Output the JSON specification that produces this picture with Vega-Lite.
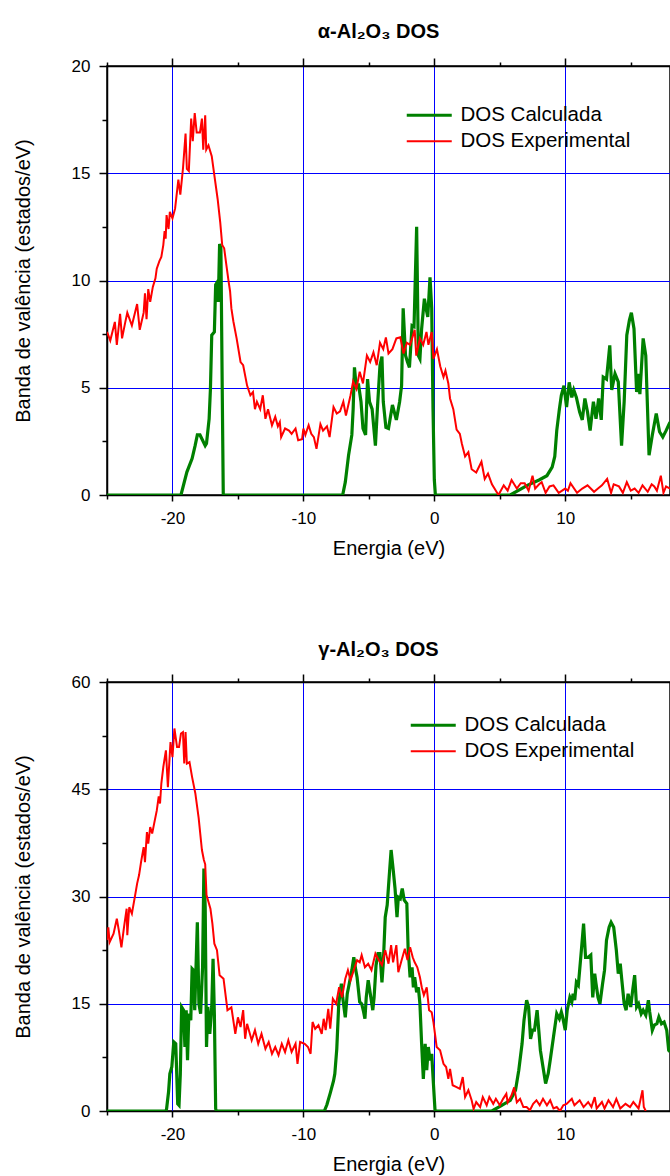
{
"$schema": "https://vega.github.io/schema/vega-lite/v6.json",
"background": "white",
"padding": {"left": 12, "top": 21, "right": 0, "bottom": 0},
"spacing": 80,
"config": {
  "view": {"stroke": "black", "strokeWidth": 1.5},
  "font": "Liberation Sans"
},
"datasets": {
"aCalc": [{"e":-25,"v":0},{"e":-19.35,"v":0},{"e":-18.9,"v":1.07},{"e":-18.5,"v":1.7},{"e":-18.27,"v":2.3},{"e":-18.1,"v":2.8},{"e":-17.9,"v":2.8},{"e":-17.7,"v":2.55},{"e":-17.5,"v":2.3},{"e":-17.4,"v":2.4},{"e":-17.2,"v":3.55},{"e":-17.1,"v":4.95},{"e":-17.0,"v":7.45},{"e":-16.8,"v":7.6},{"e":-16.7,"v":9.8},{"e":-16.6,"v":9.9},{"e":-16.5,"v":9.0},{"e":-16.4,"v":11.7},{"e":-16.3,"v":11.5},{"e":-16.2,"v":5},{"e":-16.12,"v":0},{"e":-7.0,"v":0},{"e":-6.8,"v":0.6},{"e":-6.55,"v":1.85},{"e":-6.3,"v":2.8},{"e":-6.2,"v":4.0},{"e":-6.1,"v":5.95},{"e":-5.95,"v":4.95},{"e":-5.8,"v":5.2},{"e":-5.6,"v":4.35},{"e":-5.45,"v":3.1},{"e":-5.25,"v":2.8},{"e":-5.1,"v":5.4},{"e":-4.95,"v":4.35},{"e":-4.75,"v":4.0},{"e":-4.5,"v":2.3},{"e":-4.35,"v":4.0},{"e":-4.15,"v":6.05},{"e":-4.0,"v":6.45},{"e":-3.9,"v":4.35},{"e":-3.7,"v":3.15},{"e":-3.5,"v":3.1},{"e":-3.2,"v":4.2},{"e":-2.9,"v":3.5},{"e":-2.65,"v":4.35},{"e":-2.5,"v":5.1},{"e":-2.38,"v":8.7},{"e":-2.2,"v":6.5},{"e":-2.05,"v":6.2},{"e":-1.9,"v":5.95},{"e":-1.7,"v":7.9},{"e":-1.55,"v":7.85},{"e":-1.35,"v":12.5},{"e":-1.22,"v":6.5},{"e":-1.1,"v":6.35},{"e":-0.97,"v":7.75},{"e":-0.76,"v":9.15},{"e":-0.63,"v":8.7},{"e":-0.5,"v":8.3},{"e":-0.33,"v":10.15},{"e":-0.2,"v":8.7},{"e":-0.1,"v":4},{"e":0.0,"v":0.7},{"e":0.08,"v":0},{"e":5.8,"v":0},{"e":7.1,"v":0.45},{"e":8.0,"v":0.7},{"e":8.6,"v":0.9},{"e":9.0,"v":1.3},{"e":9.2,"v":1.8},{"e":9.35,"v":3.0},{"e":9.55,"v":4.0},{"e":9.7,"v":4.65},{"e":9.9,"v":5.1},{"e":10.1,"v":4.1},{"e":10.3,"v":5.25},{"e":10.5,"v":4.55},{"e":10.65,"v":4.9},{"e":10.85,"v":4.55},{"e":11.1,"v":3.87},{"e":11.3,"v":3.5},{"e":11.5,"v":4.5},{"e":11.7,"v":3.87},{"e":11.9,"v":3.0},{"e":12.15,"v":4.35},{"e":12.35,"v":3.55},{"e":12.55,"v":4.5},{"e":12.75,"v":3.5},{"e":12.9,"v":5.5},{"e":13.15,"v":5.4},{"e":13.4,"v":6.98},{"e":13.55,"v":4.9},{"e":13.8,"v":5.65},{"e":14.05,"v":5.27},{"e":14.3,"v":2.3},{"e":14.5,"v":4.35},{"e":14.7,"v":7.45},{"e":14.9,"v":8.15},{"e":15.05,"v":8.5},{"e":15.25,"v":7.75},{"e":15.45,"v":4.8},{"e":15.55,"v":5.65},{"e":15.7,"v":4.7},{"e":15.95,"v":7.3},{"e":16.15,"v":6.5},{"e":16.4,"v":1.85},{"e":16.65,"v":2.8},{"e":16.95,"v":3.8},{"e":17.2,"v":2.95},{"e":17.45,"v":2.7},{"e":17.7,"v":3.0},{"e":18.0,"v":3.4}],
"aExp": [{"e":-25,"v":7.6},{"e":-24.75,"v":7.2},{"e":-24.4,"v":8.07},{"e":-24.25,"v":7.0},{"e":-24.0,"v":8.45},{"e":-23.85,"v":7.3},{"e":-23.6,"v":8.07},{"e":-23.45,"v":8.5},{"e":-23.1,"v":7.9},{"e":-22.7,"v":8.9},{"e":-22.5,"v":7.7},{"e":-22.2,"v":8.5},{"e":-22.1,"v":9.4},{"e":-21.98,"v":8.2},{"e":-21.85,"v":9.6},{"e":-21.7,"v":9.0},{"e":-21.5,"v":9.7},{"e":-21.3,"v":10.1},{"e":-21.2,"v":10.55},{"e":-21.0,"v":10.9},{"e":-20.85,"v":11.1},{"e":-20.7,"v":11.65},{"e":-20.6,"v":12.3},{"e":-20.52,"v":11.95},{"e":-20.45,"v":13.05},{"e":-20.3,"v":12.4},{"e":-20.2,"v":13.2},{"e":-20.0,"v":12.9},{"e":-19.8,"v":13.35},{"e":-19.55,"v":14.7},{"e":-19.4,"v":14.0},{"e":-19.2,"v":15.2},{"e":-19.0,"v":16.85},{"e":-18.9,"v":15.2},{"e":-18.75,"v":15.1},{"e":-18.57,"v":17.55},{"e":-18.45,"v":16.5},{"e":-18.3,"v":17.8},{"e":-18.15,"v":16.9},{"e":-17.9,"v":16.9},{"e":-17.75,"v":17.55},{"e":-17.65,"v":16.1},{"e":-17.5,"v":17.7},{"e":-17.42,"v":16.1},{"e":-17.25,"v":16.3},{"e":-17.0,"v":15.8},{"e":-16.8,"v":14.9},{"e":-16.55,"v":13.8},{"e":-16.35,"v":12.7},{"e":-16.2,"v":11.65},{"e":-16.05,"v":11.5},{"e":-15.9,"v":10.8},{"e":-15.7,"v":9.9},{"e":-15.6,"v":9.5},{"e":-15.5,"v":8.7},{"e":-15.35,"v":8.1},{"e":-15.1,"v":7.3},{"e":-14.8,"v":6.2},{"e":-14.6,"v":6.05},{"e":-14.3,"v":5.1},{"e":-14.05,"v":4.65},{"e":-13.85,"v":4.8},{"e":-13.7,"v":4.0},{"e":-13.55,"v":4.35},{"e":-13.3,"v":4.0},{"e":-13.1,"v":4.65},{"e":-12.9,"v":3.55},{"e":-12.7,"v":4.0},{"e":-12.4,"v":3.25},{"e":-12.15,"v":3.65},{"e":-11.95,"v":3.2},{"e":-11.8,"v":3.4},{"e":-11.7,"v":2.7},{"e":-11.4,"v":3.1},{"e":-11.1,"v":3.0},{"e":-10.9,"v":2.85},{"e":-10.6,"v":3.1},{"e":-10.4,"v":2.55},{"e":-10.1,"v":2.6},{"e":-10.0,"v":3.1},{"e":-9.85,"v":2.8},{"e":-9.6,"v":3.25},{"e":-9.4,"v":2.85},{"e":-9.2,"v":2.7},{"e":-9.0,"v":2.15},{"e":-8.7,"v":3.3},{"e":-8.5,"v":3.0},{"e":-8.2,"v":3.2},{"e":-8.0,"v":2.7},{"e":-7.7,"v":4.1},{"e":-7.45,"v":3.8},{"e":-7.2,"v":3.9},{"e":-6.95,"v":4.35},{"e":-6.75,"v":3.7},{"e":-6.4,"v":4.65},{"e":-6.2,"v":5.3},{"e":-5.95,"v":4.95},{"e":-5.7,"v":5.75},{"e":-5.45,"v":5.2},{"e":-5.15,"v":6.5},{"e":-4.9,"v":6.2},{"e":-4.65,"v":6.65},{"e":-4.4,"v":6.05},{"e":-4.15,"v":7.1},{"e":-3.9,"v":6.8},{"e":-3.7,"v":7.35},{"e":-3.5,"v":6.6},{"e":-3.2,"v":6.8},{"e":-2.9,"v":7.3},{"e":-2.6,"v":7.35},{"e":-2.35,"v":6.6},{"e":-2.1,"v":7.1},{"e":-1.85,"v":7.0},{"e":-1.5,"v":7.7},{"e":-1.38,"v":6.5},{"e":-1.1,"v":7.3},{"e":-0.85,"v":7.0},{"e":-0.6,"v":7.6},{"e":-0.45,"v":7.0},{"e":-0.2,"v":7.6},{"e":-0.07,"v":6.35},{"e":0.2,"v":6.8},{"e":0.45,"v":6.0},{"e":0.7,"v":5.5},{"e":0.85,"v":5.8},{"e":1.07,"v":5.2},{"e":1.2,"v":4.5},{"e":1.45,"v":4.0},{"e":1.7,"v":3.05},{"e":1.95,"v":2.85},{"e":2.1,"v":2.4},{"e":2.35,"v":1.8},{"e":2.6,"v":2.0},{"e":2.85,"v":1.2},{"e":3.2,"v":1.05},{"e":3.6,"v":1.55},{"e":3.85,"v":0.75},{"e":4.1,"v":1.0},{"e":4.4,"v":0.5},{"e":4.9,"v":0.0},{"e":5.3,"v":0.45},{"e":5.6,"v":0.2},{"e":5.9,"v":0.7},{"e":6.3,"v":0.3},{"e":6.6,"v":0.55},{"e":6.9,"v":0.55},{"e":7.2,"v":0.2},{"e":7.5,"v":0.9},{"e":7.7,"v":0.3},{"e":8.0,"v":0.5},{"e":8.2,"v":0.6},{"e":8.5,"v":0.1},{"e":8.8,"v":0.4},{"e":9.1,"v":0.45},{"e":9.5,"v":0.1},{"e":10.0,"v":0.3},{"e":10.2,"v":0.2},{"e":10.4,"v":0.55},{"e":10.9,"v":0.1},{"e":11.3,"v":0.3},{"e":11.7,"v":0.45},{"e":12.2,"v":0.15},{"e":12.5,"v":0.3},{"e":12.8,"v":0.45},{"e":13.2,"v":0.75},{"e":13.5,"v":0.1},{"e":13.7,"v":0.5},{"e":14.1,"v":0.4},{"e":14.4,"v":0.1},{"e":14.7,"v":0.6},{"e":15.0,"v":0.2},{"e":15.3,"v":0.3},{"e":15.6,"v":0.1},{"e":15.9,"v":0.45},{"e":16.3,"v":0.15},{"e":16.6,"v":0.5},{"e":16.8,"v":0.4},{"e":17.0,"v":0.2},{"e":17.3,"v":0.9},{"e":17.5,"v":0.1},{"e":17.7,"v":0.4},{"e":18.0,"v":0.3}],
"gCalc": [{"e":-25,"v":0},{"e":-20.5,"v":0},{"e":-20.45,"v":0.3},{"e":-20.3,"v":2.65},{"e":-20.2,"v":5.2},{"e":-20.05,"v":6.15},{"e":-19.9,"v":9.65},{"e":-19.75,"v":9.4},{"e":-19.6,"v":1.0},{"e":-19.5,"v":0.8},{"e":-19.4,"v":5.2},{"e":-19.3,"v":14.55},{"e":-19.15,"v":14.1},{"e":-19.05,"v":8.95},{"e":-18.95,"v":14.1},{"e":-18.85,"v":7.1},{"e":-18.75,"v":13.6},{"e":-18.6,"v":12.7},{"e":-18.5,"v":19.9},{"e":-18.4,"v":19.7},{"e":-18.3,"v":14.1},{"e":-18.1,"v":26.4},{"e":-17.98,"v":15.0},{"e":-17.85,"v":13.6},{"e":-17.7,"v":20.1},{"e":-17.6,"v":33.9},{"e":-17.5,"v":28.5},{"e":-17.4,"v":8.95},{"e":-17.3,"v":14.55},{"e":-17.15,"v":10.8},{"e":-17.0,"v":14.55},{"e":-16.9,"v":21.3},{"e":-16.8,"v":13.6},{"e":-16.7,"v":0.3},{"e":-16.65,"v":0},{"e":-8.4,"v":0},{"e":-8.2,"v":0.9},{"e":-7.95,"v":2.5},{"e":-7.7,"v":4.2},{"e":-7.6,"v":5.2},{"e":-7.45,"v":8.7},{"e":-7.3,"v":15.0},{"e":-7.1,"v":17.8},{"e":-7.0,"v":15.9},{"e":-6.8,"v":13.1},{"e":-6.65,"v":16.4},{"e":-6.5,"v":17.8},{"e":-6.3,"v":19.7},{"e":-6.15,"v":21.5},{"e":-6.0,"v":19.7},{"e":-5.9,"v":18.7},{"e":-5.7,"v":15.25},{"e":-5.55,"v":15.0},{"e":-5.4,"v":13.85},{"e":-5.3,"v":12.9},{"e":-5.2,"v":15.9},{"e":-5.05,"v":18.3},{"e":-4.85,"v":15.9},{"e":-4.7,"v":14.1},{"e":-4.6,"v":15.9},{"e":-4.45,"v":20.4},{"e":-4.3,"v":22.0},{"e":-4.15,"v":22.0},{"e":-4.0,"v":18.0},{"e":-3.9,"v":20.6},{"e":-3.75,"v":27.1},{"e":-3.6,"v":28.8},{"e":-3.45,"v":32.7},{"e":-3.3,"v":36.5},{"e":-3.15,"v":33.9},{"e":-3.0,"v":31.1},{"e":-2.85,"v":27.1},{"e":-2.75,"v":29.9},{"e":-2.6,"v":29.7},{"e":-2.45,"v":31.1},{"e":-2.3,"v":29.5},{"e":-2.1,"v":29.0},{"e":-2.0,"v":22.7},{"e":-1.85,"v":18.7},{"e":-1.7,"v":20.1},{"e":-1.6,"v":17.3},{"e":-1.5,"v":18.7},{"e":-1.35,"v":16.6},{"e":-1.22,"v":17.3},{"e":-1.1,"v":15.0},{"e":-0.97,"v":9.4},{"e":-0.84,"v":4.5},{"e":-0.7,"v":9.4},{"e":-0.58,"v":5.7},{"e":-0.46,"v":8.95},{"e":-0.33,"v":7.1},{"e":-0.2,"v":8.0},{"e":-0.07,"v":3.85},{"e":0.05,"v":0.2},{"e":0.1,"v":0},{"e":4.4,"v":0},{"e":5.15,"v":0.8},{"e":5.8,"v":1.5},{"e":6.2,"v":2.9},{"e":6.45,"v":5.7},{"e":6.7,"v":9.4},{"e":6.85,"v":12.7},{"e":7.05,"v":15.5},{"e":7.2,"v":14.55},{"e":7.35,"v":10.1},{"e":7.5,"v":11.3},{"e":7.65,"v":11.3},{"e":7.85,"v":14.1},{"e":8.0,"v":10.8},{"e":8.1,"v":8.5},{"e":8.3,"v":6.15},{"e":8.5,"v":3.85},{"e":8.7,"v":5.25},{"e":8.85,"v":7.1},{"e":9.1,"v":10.35},{"e":9.35,"v":13.6},{"e":9.55,"v":12.9},{"e":9.7,"v":13.85},{"e":9.8,"v":13.15},{"e":10.0,"v":11.3},{"e":10.15,"v":14.1},{"e":10.35,"v":15.9},{"e":10.5,"v":15.25},{"e":10.6,"v":16.4},{"e":10.72,"v":15.5},{"e":10.85,"v":18.0},{"e":11.0,"v":17.6},{"e":11.1,"v":19.7},{"e":11.25,"v":22.9},{"e":11.4,"v":26.2},{"e":11.55,"v":21.5},{"e":11.75,"v":21.5},{"e":11.95,"v":21.8},{"e":12.1,"v":15.9},{"e":12.25,"v":19.2},{"e":12.35,"v":17.8},{"e":12.5,"v":15.9},{"e":12.65,"v":15.0},{"e":12.85,"v":17.8},{"e":13.0,"v":19.7},{"e":13.15,"v":23.9},{"e":13.35,"v":25.7},{"e":13.5,"v":26.4},{"e":13.7,"v":25.7},{"e":13.9,"v":22.5},{"e":14.05,"v":19.2},{"e":14.2,"v":20.6},{"e":14.3,"v":18.7},{"e":14.5,"v":15.0},{"e":14.65,"v":14.1},{"e":14.8,"v":16.4},{"e":15.0,"v":14.55},{"e":15.15,"v":16.9},{"e":15.3,"v":19.0},{"e":15.45,"v":14.55},{"e":15.6,"v":15.0},{"e":15.8,"v":13.6},{"e":15.95,"v":14.1},{"e":16.15,"v":13.4},{"e":16.35,"v":15.5},{"e":16.45,"v":13.85},{"e":16.65,"v":11.3},{"e":16.8,"v":12.0},{"e":17.0,"v":12.2},{"e":17.15,"v":13.15},{"e":17.35,"v":12.2},{"e":17.55,"v":12.45},{"e":17.75,"v":11.3},{"e":17.9,"v":8.5},{"e":18.0,"v":8.3}],
"gExp": [{"e":-25,"v":23.9},{"e":-24.9,"v":25.7},{"e":-24.8,"v":23.6},{"e":-24.5,"v":24.8},{"e":-24.25,"v":26.9},{"e":-24.1,"v":25.3},{"e":-23.9,"v":22.9},{"e":-23.7,"v":25.7},{"e":-23.5,"v":28.3},{"e":-23.45,"v":24.6},{"e":-23.3,"v":28.5},{"e":-23.1,"v":27.6},{"e":-22.85,"v":30.2},{"e":-22.7,"v":31.8},{"e":-22.55,"v":33.0},{"e":-22.4,"v":34.8},{"e":-22.2,"v":36.9},{"e":-22.1,"v":34.8},{"e":-21.95,"v":39.0},{"e":-21.85,"v":37.4},{"e":-21.7,"v":39.7},{"e":-21.55,"v":38.8},{"e":-21.4,"v":40.2},{"e":-21.2,"v":42.0},{"e":-21.05,"v":44.0},{"e":-20.95,"v":43.0},{"e":-20.85,"v":45.8},{"e":-20.7,"v":48.1},{"e":-20.5,"v":50.45},{"e":-20.35,"v":45.3},{"e":-20.15,"v":51.6},{"e":-20.0,"v":49.5},{"e":-19.85,"v":53.5},{"e":-19.65,"v":50.9},{"e":-19.5,"v":50.9},{"e":-19.35,"v":52.8},{"e":-19.2,"v":53.0},{"e":-19.1,"v":48.6},{"e":-19.0,"v":53.0},{"e":-18.9,"v":48.6},{"e":-18.7,"v":48.8},{"e":-18.5,"v":46.7},{"e":-18.25,"v":44.4},{"e":-18.0,"v":41.0},{"e":-17.75,"v":36.5},{"e":-17.6,"v":35.1},{"e":-17.5,"v":34.5},{"e":-17.4,"v":30.2},{"e":-17.1,"v":28.3},{"e":-16.95,"v":26.2},{"e":-16.8,"v":23.4},{"e":-16.6,"v":22.5},{"e":-16.4,"v":19.0},{"e":-16.1,"v":18.5},{"e":-15.8,"v":14.1},{"e":-15.5,"v":14.5},{"e":-15.2,"v":10.8},{"e":-15.0,"v":13.1},{"e":-14.8,"v":11.75},{"e":-14.6,"v":14.1},{"e":-14.45,"v":10.1},{"e":-14.3,"v":12.2},{"e":-13.95,"v":9.9},{"e":-13.7,"v":11.3},{"e":-13.45,"v":9.4},{"e":-13.2,"v":10.8},{"e":-12.9,"v":8.7},{"e":-12.65,"v":9.65},{"e":-12.4,"v":8.0},{"e":-12.15,"v":8.95},{"e":-11.9,"v":7.8},{"e":-11.65,"v":9.4},{"e":-11.4,"v":8.25},{"e":-11.15,"v":9.9},{"e":-10.9,"v":8.25},{"e":-10.6,"v":9.4},{"e":-10.45,"v":6.6},{"e":-10.25,"v":9.65},{"e":-9.9,"v":9.4},{"e":-9.65,"v":8.95},{"e":-9.45,"v":8.0},{"e":-9.3,"v":12.45},{"e":-9.1,"v":11.5},{"e":-8.85,"v":12.0},{"e":-8.6,"v":10.8},{"e":-8.45,"v":12.9},{"e":-8.3,"v":11.3},{"e":-8.1,"v":14.3},{"e":-7.95,"v":11.5},{"e":-7.75,"v":15.7},{"e":-7.5,"v":15.0},{"e":-7.27,"v":17.3},{"e":-7.05,"v":15.9},{"e":-6.8,"v":18.5},{"e":-6.6,"v":19.7},{"e":-6.4,"v":18.3},{"e":-6.15,"v":19.7},{"e":-5.9,"v":21.1},{"e":-5.7,"v":20.8},{"e":-5.55,"v":21.8},{"e":-5.3,"v":20.1},{"e":-5.05,"v":20.6},{"e":-4.8,"v":19.7},{"e":-4.5,"v":22.0},{"e":-4.3,"v":21.3},{"e":-4.0,"v":20.4},{"e":-3.75,"v":22.5},{"e":-3.5,"v":20.6},{"e":-3.3,"v":23.2},{"e":-3.15,"v":20.8},{"e":-2.9,"v":23.2},{"e":-2.75,"v":19.4},{"e":-2.5,"v":21.1},{"e":-2.25,"v":22.7},{"e":-2.05,"v":21.1},{"e":-1.85,"v":22.9},{"e":-1.65,"v":21.5},{"e":-1.5,"v":20.8},{"e":-1.3,"v":20.1},{"e":-1.1,"v":18.7},{"e":-0.96,"v":17.3},{"e":-0.8,"v":16.2},{"e":-0.58,"v":17.3},{"e":-0.4,"v":14.1},{"e":-0.2,"v":13.8},{"e":-0.07,"v":12.45},{"e":0.05,"v":10.8},{"e":0.18,"v":8.95},{"e":0.44,"v":8.5},{"e":0.7,"v":6.6},{"e":0.9,"v":6.15},{"e":1.07,"v":4.5},{"e":1.2,"v":5.9},{"e":1.4,"v":3.6},{"e":1.7,"v":3.35},{"e":1.95,"v":3.1},{"e":2.17,"v":4.75},{"e":2.35,"v":1.95},{"e":2.6,"v":2.9},{"e":2.85,"v":1.5},{"e":3.0,"v":0.3},{"e":3.2,"v":1.25},{"e":3.5,"v":0.55},{"e":3.7,"v":1.95},{"e":4.0,"v":0.8},{"e":4.2,"v":1.95},{"e":4.5,"v":1.0},{"e":4.7,"v":1.7},{"e":5.0,"v":0.8},{"e":5.25,"v":1.7},{"e":5.5,"v":2.4},{"e":5.6,"v":1.2},{"e":5.9,"v":2.2},{"e":6.1,"v":3.3},{"e":6.3,"v":1.2},{"e":6.55,"v":1.7},{"e":6.8,"v":0.55},{"e":7.05,"v":0.55},{"e":7.3,"v":0.1},{"e":7.55,"v":1.0},{"e":7.8,"v":1.5},{"e":8.05,"v":0.8},{"e":8.3,"v":1.7},{"e":8.6,"v":0.8},{"e":8.85,"v":1.5},{"e":9.1,"v":0.35},{"e":9.35,"v":0.55},{"e":9.6,"v":0},{"e":9.85,"v":0.8},{"e":10.1,"v":1.0},{"e":10.5,"v":1.7},{"e":10.7,"v":0.8},{"e":11.1,"v":1.5},{"e":11.4,"v":0.55},{"e":11.75,"v":1.25},{"e":12.0,"v":0.55},{"e":12.25,"v":1.95},{"e":12.4,"v":0.35},{"e":12.8,"v":1.25},{"e":13.0,"v":0.35},{"e":13.3,"v":1.5},{"e":13.65,"v":0.55},{"e":13.9,"v":1.7},{"e":14.2,"v":0.35},{"e":14.6,"v":1.0},{"e":14.95,"v":0.55},{"e":15.2,"v":1.25},{"e":15.6,"v":0.35},{"e":15.9,"v":2.9},{"e":16.0,"v":0.55},{"e":16.15,"v":0}]
},
"resolve": {"scale": {"x": "independent", "y": "independent", "color": "independent"}, "legend": {"color": "independent"}},
"vconcat": [
{
  "title": {"text": "α-Al₂O₃ DOS", "font": "Liberation Sans", "fontSize": 20, "fontWeight": "bold", "color": "black", "anchor": "middle", "dx": -10, "offset": 15},
  "width": 563, "height": 429,
  "resolve": {"axis": {"x": "independent", "y": "independent"}},
  "layer": [
    {
      "data": {"name": "aCalc"},
      "mark": {"type": "line", "strokeWidth": 3.2, "clip": true},
      "encoding": {
        "x": {"field": "e", "type": "quantitative", "scale": {"domain": [-25, 18], "nice": false, "zero": false},
          "axis": {"orient": "bottom", "values": [-25,-20,-15,-10,-5,0,5,10,15],
            "labelExpr": "datum.value % 10 === 0 && datum.value > -25 ? '' + datum.value : ''",
            "tickSize": {"condition": {"test": "datum.value % 10 === 0", "value": 6}, "value": 4},
            "tickColor": "black", "tickWidth": 1.5, "domainColor": "black", "domainWidth": 1.5,
            "grid": true, "gridColor": "#0000ff", "gridWidth": 1,
            "gridOpacity": {"condition": {"test": "datum.value % 10 === 0", "value": 1}, "value": 0},
            "labelFont": "Liberation Sans", "labelFontSize": 17, "labelColor": "black", "labelPadding": 9,
            "title": "Energia (eV)", "titleFont": "Liberation Sans", "titleFontSize": 20, "titleFontWeight": "normal", "titleColor": "black", "titlePadding": 12}},
        "y": {"field": "v", "type": "quantitative", "scale": {"domain": [0, 20], "nice": false},
          "axis": {"orient": "left", "values": [0,2.5,5,7.5,10,12.5,15,17.5,20],
            "labelExpr": "datum.value % 5 === 0 ? '' + datum.value : ''",
            "tickSize": {"condition": {"test": "datum.value % 5 === 0", "value": 8}, "value": 5},
            "tickColor": "black", "tickWidth": 1.5, "domainColor": "black", "domainWidth": 1.5,
            "grid": true, "gridColor": "#0000ff", "gridWidth": 1,
            "gridOpacity": {"condition": {"test": "datum.value % 5 === 0", "value": 1}, "value": 0},
            "labelFont": "Liberation Sans", "labelFontSize": 17, "labelColor": "black", "labelPadding": 9,
            "title": "Banda de valência (estados/eV)", "titleFont": "Liberation Sans", "titleFontSize": 20, "titleFontWeight": "normal", "titleColor": "black", "titlePadding": 38}},
        "color": {"datum": "DOS Calculada", "type": "nominal",
          "scale": {"domain": ["DOS Calculada", "DOS Experimental"], "range": ["#008000", "#ff0000"]},
          "legend": {"orient": "none", "legendX": 312, "legendY": 39, "title": null, "padding": 0,
            "symbolType": "M-2.5,0H2.5", "symbolSize": 324, "labelLimit": 0,
            "labelFont": "Liberation Sans", "labelFontSize": 20.5, "labelColor": "black", "labelOffset": 21, "rowPadding": 5,
            "encode": {"symbols": {"update": {"strokeWidth": {"signal": "datum.value === 'DOS Calculada' ? 3 : 2"}}}}}}
      }
    },
    {
      "data": {"name": "aExp"},
      "mark": {"type": "line", "strokeWidth": 2, "clip": true},
      "encoding": {
        "x": {"field": "e", "type": "quantitative",
          "axis": {"orient": "top", "values": [-25,-20,-15,-10,-5,0,5,10,15], "labels": false, "title": null, "grid": false,
            "tickSize": {"condition": {"test": "datum.value % 10 === 0", "value": 8}, "value": 4},
            "tickColor": "black", "tickWidth": 1.5, "domainColor": "black", "domainWidth": 1.5}},
        "y": {"field": "v", "type": "quantitative", "axis": null},
        "color": {"datum": "DOS Experimental", "type": "nominal"}
      }
    }
  ]
},
{
  "title": {"text": "γ-Al₂O₃ DOS", "font": "Liberation Sans", "fontSize": 20, "fontWeight": "bold", "color": "black", "anchor": "middle", "dx": -10, "offset": 13},
  "width": 563, "height": 429,
  "resolve": {"axis": {"x": "independent", "y": "independent"}},
  "layer": [
    {
      "data": {"name": "gCalc"},
      "mark": {"type": "line", "strokeWidth": 3.2, "clip": true},
      "encoding": {
        "x": {"field": "e", "type": "quantitative", "scale": {"domain": [-25, 18], "nice": false, "zero": false},
          "axis": {"orient": "bottom", "values": [-25,-20,-15,-10,-5,0,5,10,15],
            "labelExpr": "datum.value % 10 === 0 && datum.value > -25 ? '' + datum.value : ''",
            "tickSize": {"condition": {"test": "datum.value % 10 === 0", "value": 6}, "value": 4},
            "tickColor": "black", "tickWidth": 1.5, "domainColor": "black", "domainWidth": 1.5,
            "grid": true, "gridColor": "#0000ff", "gridWidth": 1,
            "gridOpacity": {"condition": {"test": "datum.value % 10 === 0", "value": 1}, "value": 0},
            "labelFont": "Liberation Sans", "labelFontSize": 17, "labelColor": "black", "labelPadding": 9,
            "title": "Energia (eV)", "titleFont": "Liberation Sans", "titleFontSize": 20, "titleFontWeight": "normal", "titleColor": "black", "titlePadding": 12}},
        "y": {"field": "v", "type": "quantitative", "scale": {"domain": [0, 60], "nice": false},
          "axis": {"orient": "left", "values": [0,7.5,15,22.5,30,37.5,45,52.5,60],
            "labelExpr": "datum.value % 15 === 0 ? '' + datum.value : ''",
            "tickSize": {"condition": {"test": "datum.value % 15 === 0", "value": 8}, "value": 5},
            "tickColor": "black", "tickWidth": 1.5, "domainColor": "black", "domainWidth": 1.5,
            "grid": true, "gridColor": "#0000ff", "gridWidth": 1,
            "gridOpacity": {"condition": {"test": "datum.value % 15 === 0", "value": 1}, "value": 0},
            "labelFont": "Liberation Sans", "labelFontSize": 17, "labelColor": "black", "labelPadding": 9,
            "title": "Banda de valência (estados/eV)", "titleFont": "Liberation Sans", "titleFontSize": 20, "titleFontWeight": "normal", "titleColor": "black", "titlePadding": 38}},
        "color": {"datum": "DOS Calculada", "type": "nominal",
          "scale": {"domain": ["DOS Calculada", "DOS Experimental"], "range": ["#008000", "#ff0000"]},
          "legend": {"orient": "none", "legendX": 316, "legendY": 33, "title": null, "padding": 0,
            "symbolType": "M-2.5,0H2.5", "symbolSize": 324, "labelLimit": 0,
            "labelFont": "Liberation Sans", "labelFontSize": 20.5, "labelColor": "black", "labelOffset": 21, "rowPadding": 5,
            "encode": {"symbols": {"update": {"strokeWidth": {"signal": "datum.value === 'DOS Calculada' ? 3 : 2"}}}}}}
      }
    },
    {
      "data": {"name": "gExp"},
      "mark": {"type": "line", "strokeWidth": 2, "clip": true},
      "encoding": {
        "x": {"field": "e", "type": "quantitative",
          "axis": {"orient": "top", "values": [-25,-20,-15,-10,-5,0,5,10,15], "labels": false, "title": null, "grid": false,
            "tickSize": {"condition": {"test": "datum.value % 10 === 0", "value": 8}, "value": 4},
            "tickColor": "black", "tickWidth": 1.5, "domainColor": "black", "domainWidth": 1.5}},
        "y": {"field": "v", "type": "quantitative", "axis": null},
        "color": {"datum": "DOS Experimental", "type": "nominal"}
      }
    }
  ]
}
]
}
